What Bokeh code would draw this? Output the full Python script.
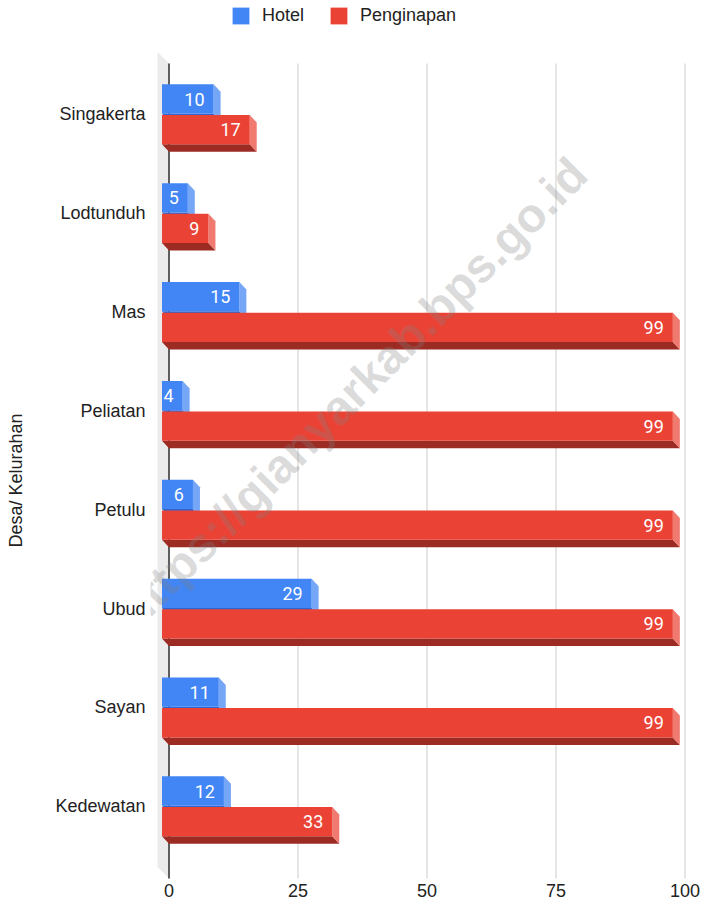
from bokeh.plotting import figure
from bokeh.models import Range1d, FixedTicker, Legend, LegendItem, Label, Title, ColumnDataSource
from bokeh.core.properties import value
from bokeh.embed import file_html
from bokeh.resources import INLINE

# ---------------- data ----------------
categories = ["Singakerta", "Lodtunduh", "Mas", "Peliatan", "Petulu", "Ubud", "Sayan", "Kedewatan"]
hotel = [10, 5, 15, 4, 6, 29, 11, 12]
penginapan = [17, 9, 99, 99, 99, 99, 99, 33]
series_names = ["Hotel", "Penginapan"]
x_ticks = [0, 25, 50, 75, 100]
axis_title = "Desa/ Kelurahan"
watermark = "https://gianyarkab.bps.go.id"

# ---------------- layout (pixels) ----------------
W, H = 703, 904
LEFT, BOTTOM_PANEL = 150, 24
FRAME_W, FRAME_H = W - LEFT, H - BOTTOM_PANEL
PX_X = 5.16          # px per x unit
X0_PX = 18.5         # frame left -> x=0
BAND_PX = 98.86      # px per category
C0_PX = 113.8        # frame top -> first category centre
DEPTH_X, DEPTH_Y = 7.0, 7.5
BAR_H, GAP = 29.3, 1.3
LABEL_PAD = 9
BACK_TOP_PX, BACK_BOT_PX = 63, 878
WALL_DEPTH = 11.5

x_start = -X0_PX / PX_X
x_end = x_start + FRAME_W / PX_X
y_top = -C0_PX / BAND_PX
y_bot = y_top + FRAME_H / BAND_PX

def dxu(px):
    return px / PX_X

def dyu(px):
    return px / BAND_PX

def fy(px):  # frame-top pixel -> y value
    return y_top + px / BAND_PX

FONT = "Liberation Sans"
TXT = "#222222"
FRONT = ["#4285F4", "#EA4335"]
SIDE = ["#76A7F7", "#F07A70"]
BOTTOM = ["#3266CC", "#9C2B23"]

p = figure(width=W, height=H,
           x_range=Range1d(x_start, x_end), y_range=Range1d(y_bot, y_top),
           output_backend="svg", toolbar_location=None,
           min_border_left=LEFT, min_border_right=0, min_border_top=0, min_border_bottom=BOTTOM_PANEL)
p.outline_line_color = None
p.xgrid.visible = False
p.ygrid.visible = False
p.background_fill_color = "white"

# wall
wx = [dxu(-WALL_DEPTH), 0, 0, dxu(-WALL_DEPTH)]
wy = [fy(BACK_TOP_PX - WALL_DEPTH), fy(BACK_TOP_PX), fy(BACK_BOT_PX), fy(BACK_BOT_PX - WALL_DEPTH)]
p.patch(wx, wy, fill_color="#EBEBEB", line_color=None)

# gridlines
p.segment(x0=x_ticks, x1=x_ticks, y0=[fy(BACK_TOP_PX)] * len(x_ticks), y1=[fy(BACK_BOT_PX)] * len(x_ticks),
          line_color="#CCCCCC", line_width=1)
p.segment(x0=[0], x1=[0], y0=[fy(BACK_TOP_PX)], y1=[fy(BACK_BOT_PX)], line_color="#333333", line_width=1.5)

front_renderers = []
for s, vals in enumerate([hotel, penginapan]):
    if s == 0:
        tops = [i + dyu(-GAP / 2 - BAR_H) for i in range(len(categories))]
        bots = [i + dyu(-GAP / 2) for i in range(len(categories))]
    else:
        tops = [i + dyu(GAP / 2) for i in range(len(categories))]
        bots = [i + dyu(GAP / 2 + BAR_H) for i in range(len(categories))]
    L = -dxu(DEPTH_X)
    ddx, ddy = dxu(DEPTH_X), dyu(DEPTH_Y)
    rights = [v - dxu(DEPTH_X) for v in vals]
    side_xs = [[R, R + ddx, R + ddx, R] for R in rights]
    side_ys = [[T, T + ddy, B + ddy, B] for T, B in zip(tops, bots)]
    bot_xs = [[L, R, R + ddx, L + ddx] for R in rights]
    bot_ys = [[B, B, B + ddy, B + ddy] for B in bots]
    p.patches(bot_xs, bot_ys, fill_color=BOTTOM[s], line_color=None)
    p.patches(side_xs, side_ys, fill_color=SIDE[s], line_color=None)
    src = ColumnDataSource(dict(left=[L] * len(vals), right=rights, top=tops, bottom=bots,
                                lx=[r - dxu(LABEL_PAD) for r in rights],
                                ly=[(t + b) / 2 for t, b in zip(tops, bots)],
                                txt=[str(v) for v in vals]))
    r = p.quad(left="left", right="right", top="top", bottom="bottom", source=src,
               fill_color=FRONT[s], line_color=None)
    front_renderers.append(r)
    p.text(x="lx", y="ly", text="txt", source=src, text_align="right", text_baseline="middle",
           text_color="white", text_font=value("Roboto"), text_font_size="18px")

# axes
p.xaxis.ticker = FixedTicker(ticks=x_ticks)
p.xaxis.axis_line_color = None
p.xaxis.major_tick_line_color = None
p.xaxis.minor_tick_line_color = None
p.xaxis.major_tick_out = 0
p.xaxis.minor_tick_out = 0
p.xaxis.major_label_standoff = 3
p.xaxis.major_label_text_font = FONT
p.xaxis.major_label_text_font_size = "18px"
p.xaxis.major_label_text_color = TXT

p.yaxis.ticker = FixedTicker(ticks=list(range(len(categories))))
p.yaxis.major_label_overrides = {i: c for i, c in enumerate(categories)}
p.yaxis.axis_line_color = None
p.yaxis.major_tick_line_color = None
p.yaxis.minor_tick_line_color = None
p.yaxis.major_tick_out = 0
p.yaxis.minor_tick_out = 0
p.yaxis.major_label_standoff = 5
p.yaxis.major_label_text_font = FONT
p.yaxis.major_label_text_font_size = "18px"
p.yaxis.major_label_text_color = TXT

# spacer between tick labels and the axis title, then the title itself
p.add_layout(Title(text=" ", standoff=3, text_font=FONT, text_font_size="18px"), "left")
p.add_layout(Title(text=axis_title, align="left", vertical_align="top", offset=FRAME_H - 547, standoff=0,
                   text_font=FONT, text_font_size="18px", text_font_style="normal", text_color=TXT), "left")

# watermark
p.add_layout(Label(x=x_start + (352 - LEFT) / PX_X, y=fy(392), text=watermark, angle=45, angle_units="deg",
                   text_align="center", text_baseline="middle", text_font="Liberation Sans",
                   text_font_style="bold", text_font_size="48px", text_color="#808080", text_alpha=0.28))

legend = Legend(items=[LegendItem(label=n, renderers=[r]) for n, r in zip(series_names, front_renderers)],
                orientation="horizontal", location=(80, FRAME_H - 26), glyph_width=21, glyph_height=21,
                label_standoff=11, spacing=24, padding=0, margin=0, label_height=17,
                label_text_font=FONT, label_text_font_size="18px", label_text_color=TXT,
                border_line_color=None, background_fill_alpha=0)
p.add_layout(legend, "center")

open("out.html", "w").write(file_html(p, INLINE))
